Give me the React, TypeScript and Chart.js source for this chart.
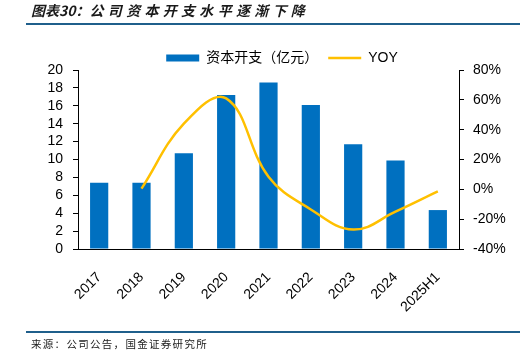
import React, { useEffect, useRef } from "react";
import { Chart, registerables } from "chart.js";

Chart.register(...registerables);

const categories = ["2017", "2018", "2019", "2020", "2021", "2022", "2023", "2024", "2025H1"];
const capex = [7.4, 7.4, 10.7, 17.2, 18.6, 16.1, 11.7, 9.9, 4.35];
const yoy = [null, 0.5, 44, 61, 8.5, -13.5, -27, -15, -1.4];
const leftTicks = [0, 2, 4, 6, 8, 10, 12, 14, 16, 18, 20];
const rightTicks = [-40, -20, 0, 20, 40, 60, 80];

const BAR = "#0070C0";
const LINE = "#FFC000";
const FONT = "'Liberation Sans', 'Noto Sans CJK SC', sans-serif";

const legendFix = {
  id: "legendFix",
  beforeLayout(chart: any) {
    const lg = chart.legend;
    if (lg && !lg._patched) {
      const orig = lg.fit.bind(lg);
      lg.fit = function () {
        orig();
        this.height = 29;
      };
      lg._patched = true;
    }
  },
};

export default function App() {
  const ref = useRef<HTMLCanvasElement | null>(null);

  useEffect(() => {
    if (!ref.current) return;
    const chart = new Chart(ref.current, {
      type: "bar",
      data: {
        labels: categories,
        datasets: [
          {
            type: "bar",
            label: "资本开支（亿元）",
            data: capex,
            backgroundColor: BAR,
            borderWidth: 0,
            categoryPercentage: 1,
            barPercentage: 0.43,
            yAxisID: "y",
            order: 2,
          },
          {
            type: "line",
            label: "YOY",
            data: yoy as any,
            borderColor: LINE,
            borderWidth: 2.5,
            pointRadius: 0,
            tension: 0.4,
            fill: false,
            yAxisID: "y1",
            order: 1,
          },
        ],
      },
      plugins: [legendFix],
      options: {
        animation: false,
        responsive: false,
        maintainAspectRatio: false,
        layout: { padding: { left: 40, right: 0, top: 41, bottom: 0 } },
        plugins: {
          tooltip: { enabled: false },
          legend: {
            display: true,
            position: "top",
            labels: {
              usePointStyle: true,
              pointStyleWidth: 33,
              boxHeight: 7,
              padding: 10,
              color: "#000",
              font: { family: FONT, size: 14 },
              generateLabels: () => [
                {
                  text: "资本开支（亿元）",
                  fillStyle: BAR,
                  strokeStyle: BAR,
                  lineWidth: 0,
                  pointStyle: "rect",
                  datasetIndex: 0,
                  hidden: false,
                  fontColor: "#000",
                } as any,
                {
                  text: "YOY",
                  fillStyle: LINE,
                  strokeStyle: LINE,
                  lineWidth: 2.5,
                  pointStyle: "line",
                  datasetIndex: 1,
                  hidden: false,
                  fontColor: "#000",
                } as any,
              ],
            },
          },
        },
        scales: {
          x: {
            grid: { display: false },
            border: { display: true, color: "#000", width: 1 },
            ticks: {
              color: "#000",
              font: { family: FONT, size: 14 },
              minRotation: 45,
              maxRotation: 45,
              autoSkip: false,
              padding: 12,
            },
            afterFit: (s: any) => {
              s.height = 110;
            },
          },
          y: {
            position: "left",
            min: 0,
            max: 20,
            afterBuildTicks: (s: any) => {
              s.ticks = leftTicks.map((v) => ({ value: v }));
            },
            ticks: {
              color: "#000",
              font: { family: FONT, size: 14 },
              padding: 10,
              autoSkip: false,
            },
            grid: {
              display: true,
              drawOnChartArea: false,
              drawTicks: true,
              tickLength: 5,
              color: "#000",
            },
            border: { display: true, color: "#000", width: 1 },
            afterFit: (s: any) => {
              s.width = 38;
            },
          },
          y1: {
            position: "right",
            min: -40,
            max: 80,
            afterBuildTicks: (s: any) => {
              s.ticks = rightTicks.map((v) => ({ value: v }));
            },
            ticks: {
              color: "#000",
              font: { family: FONT, size: 14 },
              padding: 9,
              autoSkip: false,
              callback: (v: any) => `${v}%`,
            },
            grid: {
              display: true,
              drawOnChartArea: false,
              drawTicks: true,
              tickLength: 5,
              color: "#000",
            },
            border: { display: true, color: "#000", width: 1 },
            afterFit: (s: any) => {
              s.width = 65;
            },
          },
        },
      },
    });
    return () => chart.destroy();
  }, []);

  return (
    <div
      style={{
        position: "fixed",
        left: 0,
        top: 0,
        width: 524,
        height: 359,
        background: "#fff",
        overflow: "hidden",
      }}
    >
      <canvas
        ref={ref}
        width={524}
        height={359}
        style={{ position: "absolute", left: 0, top: 0, width: 524, height: 359 }}
      />
      <div
        style={{
          position: "absolute",
          left: 31,
          top: 1,
          fontFamily: "'Noto Sans CJK SC', sans-serif",
          fontSize: 14,
          fontWeight: "bold",
          fontStyle: "italic",
          color: "#1a1a1a",
          whiteSpace: "nowrap",
          lineHeight: "18px",
        }}
      >
        <span>图表30：</span>
        <span style={{ letterSpacing: "4.3px" }}>公司资本开支水平逐渐下降</span>
      </div>
      <div
        style={{
          position: "absolute",
          left: 26,
          top: 23,
          width: 494,
          height: 2,
          background: "#1F5F8B",
        }}
      />
      <div
        style={{
          position: "absolute",
          left: 26,
          top: 331,
          width: 494,
          height: 2,
          background: "#1F5F8B",
        }}
      />
      <div
        style={{
          position: "absolute",
          left: 31,
          top: 337,
          fontFamily: "'Noto Sans CJK SC', sans-serif",
          fontSize: 10.5,
          letterSpacing: "1.3px",
          color: "#1a1a1a",
          whiteSpace: "nowrap",
          lineHeight: "14px",
        }}
      >
        来源：公司公告，国金证券研究所
      </div>
    </div>
  );
}
